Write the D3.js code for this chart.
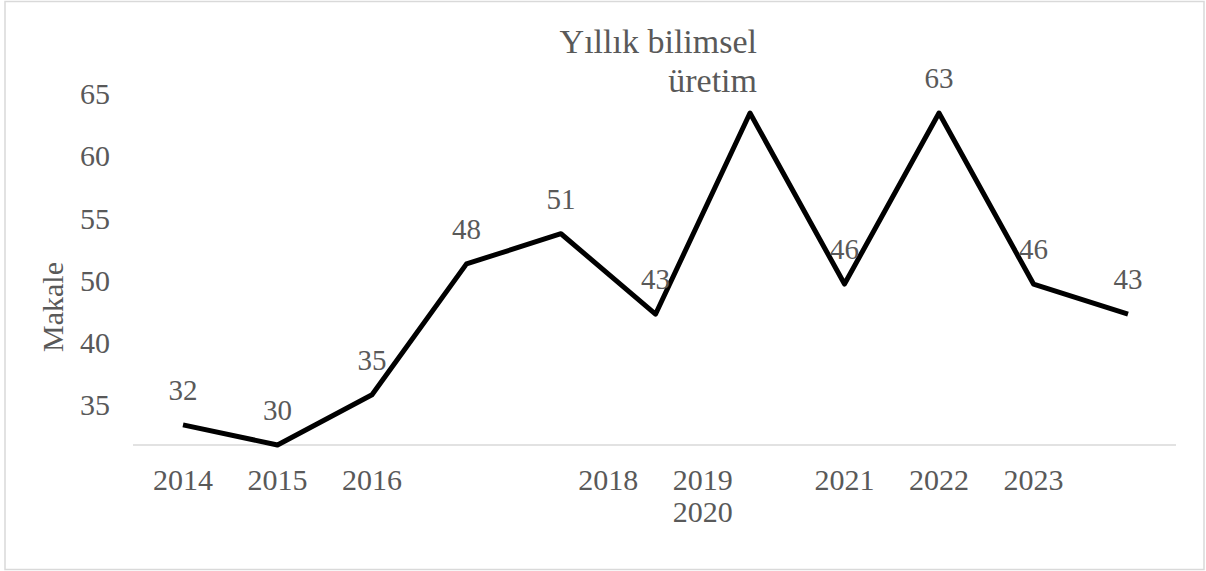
<!DOCTYPE html>
<html>
<head>
<meta charset="utf-8">
<script src="https://cdn.jsdelivr.net/npm/d3@7"></script>
<style>
  body { margin: 0; background: #fff; }
  text { font-family: "Liberation Serif", serif; fill: #595959; }
</style>
</head>
<body>
<div id="chart"></div>
<script>
// chart data
const values = [32, 30, 35, 48, 51, 43, 63, 46, 63, 46, 43];
const xLabels = ["2014", "2015", "2016", "2018", "2019\n2020", "2021", "2022", "2023"];
const xLabelSlots = [0, 1, 2, 4.5, 5.5, 7, 8, 9];   // where each label sits, in point units
const yLabels = ["30", "35", "40", "50", "55", "60", "65"];
const title = ["Yıllık bilimsel", "üretim"];
const yTitle = "Makale";

const width = 1206, height = 571;

const svg = d3.select("#chart").append("svg")
    .attr("width", width)
    .attr("height", height);

// outer frame
svg.append("rect")
    .attr("x", 5).attr("y", 1.5)
    .attr("width", 1199).attr("height", 568)
    .attr("fill", "#fff")
    .attr("stroke", "#d9d9d9")
    .attr("stroke-width", 1.5);

const x = d3.scaleLinear().domain([0, values.length - 1]).range([183, 1128]);
const y = d3.scaleLinear().domain([30, 63]).range([445, 113]);

// baseline
svg.append("line")
    .attr("x1", 133).attr("x2", 1176)
    .attr("y1", y(30)).attr("y2", y(30))
    .attr("stroke", "#d9d9d9")
    .attr("stroke-width", 1.5);

// y labels (hand-typed in the source, evenly spaced, not tied to the data scale)
const yPos = d3.scalePoint().domain(yLabels).range([467, 94]);

svg.append("clipPath").attr("id", "yclip")
    .append("rect").attr("x", 0).attr("y", 0).attr("width", 130).attr("height", 458);

svg.append("g")
    .attr("clip-path", "url(#yclip)")
    .selectAll("text")
    .data(yLabels)
    .join("text")
    .attr("x", 110)
    .attr("y", d => yPos(d))
    .attr("dy", "0.34em")
    .attr("text-anchor", "end")
    .style("font-size", "30px")
    .text(d => d);

svg.append("text")
    .attr("transform", "translate(63,307) rotate(-90)")
    .attr("text-anchor", "middle")
    .style("font-size", "30px")
    .text(yTitle);

// x labels
const xl = svg.append("g").selectAll("text")
    .data(xLabels)
    .join("text")
    .attr("text-anchor", "middle")
    .style("font-size", "30px");

xl.selectAll("tspan")
    .data((d, i) => d.split("\n").map(t => ({t: t, slot: xLabelSlots[i]})))
    .join("tspan")
    .attr("x", d => x(d.slot))
    .attr("y", (d, j) => 490 + j * 32)
    .text(d => d.t);

// the line
const line = d3.line()
    .x((d, i) => x(i))
    .y(d => y(d));

svg.append("path")
    .datum(values)
    .attr("d", line)
    .attr("fill", "none")
    .attr("stroke", "#000")
    .attr("stroke-width", 5)
    .attr("stroke-linejoin", "round");

// title
const tt = svg.append("text")
    .attr("text-anchor", "end")
    .style("font-size", "34px");
tt.selectAll("tspan")
    .data(title)
    .join("tspan")
    .attr("x", 757)
    .attr("y", (d, i) => 53 + i * 39)
    .text(d => d);
const tb = tt.node().getBBox();

// data labels; the one sitting under the title is hidden by it in the original
const dl = svg.append("g").selectAll("text")
    .data(values)
    .join("text")
    .attr("x", (d, i) => x(i))
    .attr("y", d => y(d) - 25)
    .attr("text-anchor", "middle")
    .style("font-size", "29px")
    .text(d => d);

dl.filter(function () {
    const b = this.getBBox();
    return b.x < tb.x + tb.width + 10 && b.x + b.width > tb.x - 10 &&
        b.y < tb.y + tb.height && b.y + b.height > tb.y;
}).remove();
</script>
</body>
</html>
